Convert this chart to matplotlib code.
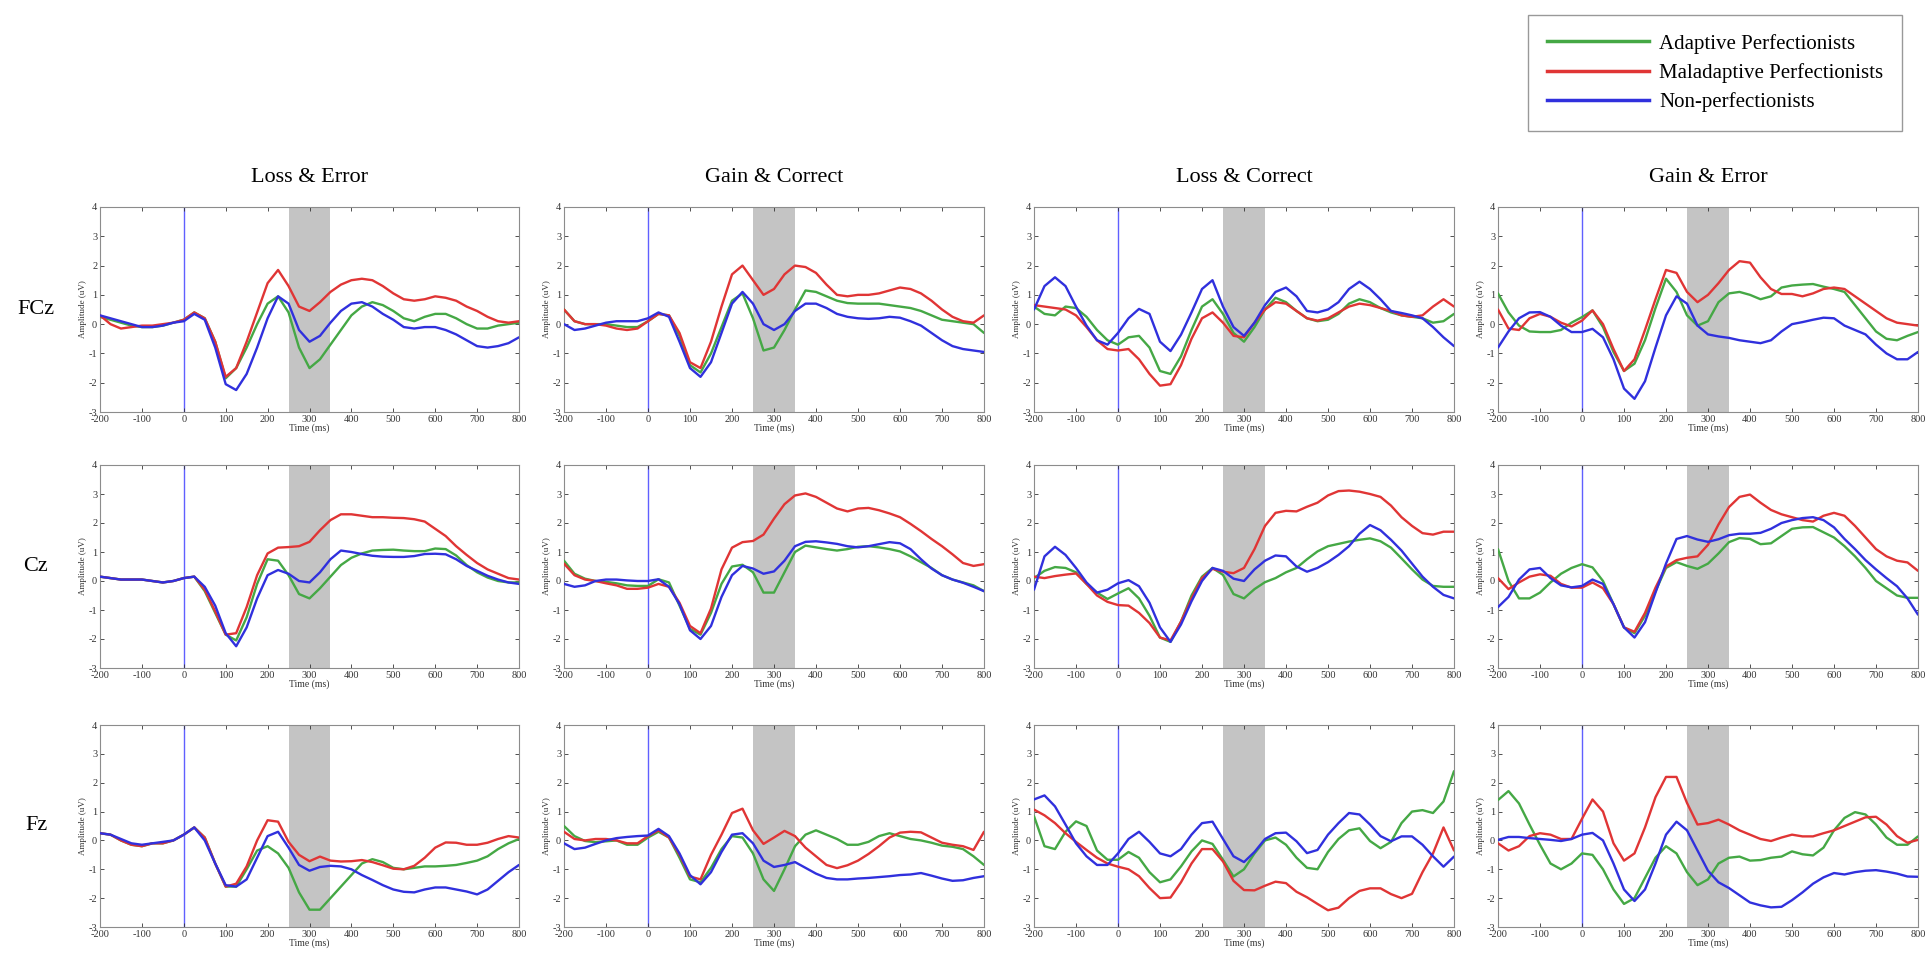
import matplotlib
matplotlib.use("Agg")
import matplotlib.pyplot as plt
from matplotlib.lines import Line2D

plt.rcParams['font.family'] = ['Liberation Serif', 'DejaVu Serif']
plt.rcParams['axes.unicode_minus'] = False

# ---------------- data ----------------
time_ms = list(range(-200, 801, 25))
x_ticks = [-200, -100, 0, 100, 200, 300, 400, 500, 600, 700, 800]
y_ticks = [-3, -2, -1, 0, 1, 2, 3, 4]
conditions = ["Loss & Error", "Gain & Correct", "Loss & Correct", "Gain & Error"]
electrodes = ["FCz", "Cz", "Fz"]
groups = ["Adaptive Perfectionists", "Maladaptive Perfectionists", "Non-perfectionists"]

# FCz
fcz_loss_error_adaptive = [0.25,0.15,0.05,-0.05,-0.1,-0.1,-0.05,0.05,0.15,0.4,0.2,-0.6,-1.85,-1.5,-0.8,0.0,0.7,0.95,0.4,-0.8,-1.5,-1.2,-0.7,-0.2,0.3,0.6,0.75,0.65,0.45,0.2,0.1,0.25,0.35,0.35,0.2,0.0,-0.15,-0.15,-0.05,0.0,0.05]
fcz_loss_error_maladaptive = [0.3,0.0,-0.15,-0.1,-0.05,-0.05,0.0,0.05,0.15,0.4,0.2,-0.6,-1.8,-1.5,-0.6,0.4,1.4,1.85,1.3,0.6,0.45,0.75,1.1,1.35,1.5,1.55,1.5,1.3,1.05,0.85,0.8,0.85,0.95,0.9,0.8,0.6,0.45,0.25,0.1,0.05,0.1]
fcz_loss_error_non = [0.3,0.2,0.1,0.0,-0.1,-0.1,-0.05,0.05,0.1,0.35,0.15,-0.8,-2.05,-2.25,-1.7,-0.8,0.2,0.95,0.7,-0.2,-0.6,-0.4,0.05,0.45,0.7,0.75,0.6,0.35,0.15,-0.1,-0.15,-0.1,-0.1,-0.2,-0.35,-0.55,-0.75,-0.8,-0.75,-0.65,-0.45]

fcz_gain_correct_adaptive = [0.5,0.1,0.0,0.0,0.0,-0.05,-0.1,-0.1,0.1,0.35,0.3,-0.4,-1.4,-1.65,-1.0,-0.1,0.8,1.05,0.2,-0.9,-0.8,-0.2,0.5,1.15,1.1,0.95,0.8,0.72,0.7,0.7,0.7,0.65,0.6,0.55,0.45,0.3,0.15,0.1,0.05,0.0,-0.3]
fcz_gain_correct_maladaptive = [0.5,0.1,0.0,0.0,-0.05,-0.15,-0.2,-0.15,0.1,0.35,0.3,-0.3,-1.3,-1.5,-0.6,0.6,1.7,2.0,1.5,1.0,1.2,1.7,2.0,1.95,1.75,1.35,1.0,0.95,1.0,1.0,1.05,1.15,1.25,1.2,1.05,0.8,0.5,0.25,0.1,0.05,0.3]
fcz_gain_correct_non = [0.0,-0.2,-0.15,-0.05,0.05,0.1,0.1,0.1,0.2,0.4,0.25,-0.6,-1.5,-1.8,-1.3,-0.3,0.7,1.1,0.7,0.0,-0.2,0.0,0.45,0.7,0.7,0.55,0.35,0.25,0.2,0.18,0.2,0.25,0.22,0.1,-0.05,-0.3,-0.55,-0.75,-0.85,-0.9,-0.95]

fcz_loss_correct_adaptive = [0.6,0.35,0.3,0.6,0.55,0.25,-0.2,-0.55,-0.7,-0.45,-0.4,-0.8,-1.6,-1.7,-1.1,-0.2,0.6,0.85,0.35,-0.3,-0.6,-0.1,0.5,0.9,0.75,0.45,0.2,0.1,0.15,0.35,0.7,0.85,0.75,0.55,0.4,0.3,0.25,0.2,0.05,0.1,0.35]
fcz_loss_correct_maladaptive = [0.65,0.6,0.55,0.5,0.3,-0.1,-0.55,-0.85,-0.9,-0.85,-1.2,-1.7,-2.1,-2.05,-1.4,-0.5,0.2,0.4,0.05,-0.4,-0.45,0.05,0.5,0.75,0.7,0.45,0.2,0.12,0.2,0.4,0.6,0.7,0.65,0.55,0.45,0.3,0.25,0.3,0.6,0.85,0.6]
fcz_loss_correct_non = [0.5,1.3,1.6,1.3,0.6,-0.05,-0.55,-0.7,-0.3,0.2,0.52,0.35,-0.6,-0.92,-0.36,0.4,1.2,1.5,0.6,-0.1,-0.4,0.05,0.65,1.1,1.25,0.95,0.45,0.4,0.5,0.75,1.2,1.45,1.2,0.85,0.45,0.38,0.3,0.2,-0.1,-0.45,-0.75]

fcz_gain_error_adaptive = [1.05,0.4,-0.05,-0.25,-0.27,-0.27,-0.2,0.05,0.24,0.47,-0.1,-0.95,-1.6,-1.35,-0.55,0.55,1.55,1.1,0.3,-0.05,0.1,0.75,1.05,1.1,1.0,0.85,0.95,1.25,1.32,1.35,1.37,1.28,1.2,1.1,0.65,0.2,-0.25,-0.5,-0.55,-0.4,-0.27]
fcz_gain_error_maladaptive = [0.5,-0.15,-0.2,0.2,0.35,0.25,0.05,-0.08,0.12,0.47,0.0,-0.85,-1.6,-1.2,-0.2,0.85,1.85,1.75,1.1,0.75,1.0,1.4,1.85,2.15,2.1,1.6,1.2,1.03,1.03,0.95,1.05,1.2,1.25,1.2,0.95,0.7,0.45,0.2,0.05,0.0,-0.05]
fcz_gain_error_non = [-0.8,-0.25,0.2,0.4,0.41,0.25,-0.05,-0.27,-0.27,-0.16,-0.45,-1.2,-2.2,-2.55,-1.95,-0.8,0.3,0.95,0.7,-0.05,-0.35,-0.42,-0.47,-0.55,-0.6,-0.65,-0.55,-0.25,0.0,0.07,0.15,0.22,0.2,-0.05,-0.2,-0.35,-0.7,-1.0,-1.2,-1.2,-0.95]

# Cz
cz_loss_error_adaptive = [0.15,0.1,0.05,0.05,0.05,0.0,-0.05,0.0,0.1,0.15,-0.35,-1.1,-1.85,-2.05,-1.25,-0.1,0.75,0.7,0.2,-0.45,-0.6,-0.25,0.15,0.55,0.8,0.95,1.05,1.07,1.08,1.05,1.03,1.03,1.12,1.1,0.88,0.55,0.3,0.12,0.0,-0.05,-0.05]
cz_loss_error_maladaptive = [0.15,0.1,0.05,0.05,0.05,0.0,-0.05,0.0,0.1,0.15,-0.3,-1.05,-1.85,-1.8,-0.9,0.2,0.95,1.15,1.17,1.2,1.35,1.75,2.1,2.3,2.3,2.25,2.2,2.2,2.18,2.17,2.13,2.05,1.8,1.55,1.2,0.9,0.62,0.4,0.25,0.1,0.05]
cz_loss_error_non = [0.15,0.1,0.05,0.05,0.05,0.0,-0.05,0.0,0.1,0.15,-0.2,-0.85,-1.8,-2.25,-1.6,-0.6,0.2,0.38,0.25,0.0,-0.05,0.3,0.75,1.05,1.0,0.93,0.87,0.84,0.83,0.83,0.86,0.93,0.94,0.92,0.75,0.52,0.35,0.18,0.05,-0.05,-0.1]

cz_gain_correct_adaptive = [0.7,0.25,0.08,0.0,-0.03,-0.08,-0.15,-0.17,-0.17,0.06,-0.05,-0.85,-1.65,-1.85,-1.1,-0.1,0.5,0.56,0.3,-0.4,-0.4,0.3,1.0,1.22,1.16,1.1,1.05,1.1,1.18,1.2,1.16,1.1,1.02,0.85,0.65,0.45,0.2,0.05,-0.05,-0.15,-0.35]
cz_gain_correct_maladaptive = [0.6,0.2,0.05,0.0,-0.08,-0.15,-0.27,-0.27,-0.23,-0.1,-0.2,-0.75,-1.55,-1.8,-0.95,0.4,1.15,1.34,1.38,1.6,2.15,2.65,2.95,3.02,2.9,2.7,2.5,2.4,2.5,2.52,2.44,2.33,2.2,1.97,1.72,1.45,1.2,0.92,0.62,0.52,0.58]
cz_gain_correct_non = [-0.1,-0.2,-0.15,0.0,0.05,0.05,0.02,0.0,0.0,0.06,-0.2,-0.8,-1.7,-2.0,-1.55,-0.55,0.2,0.52,0.43,0.25,0.33,0.7,1.2,1.35,1.37,1.33,1.28,1.2,1.16,1.2,1.27,1.34,1.3,1.1,0.75,0.43,0.2,0.05,-0.06,-0.2,-0.35]

cz_loss_correct_adaptive = [0.1,0.35,0.48,0.45,0.3,-0.1,-0.4,-0.62,-0.43,-0.25,-0.6,-1.2,-1.95,-2.1,-1.4,-0.5,0.15,0.45,0.21,-0.45,-0.6,-0.28,-0.04,0.1,0.3,0.45,0.75,1.02,1.2,1.28,1.36,1.42,1.47,1.37,1.15,0.78,0.4,0.05,-0.17,-0.2,-0.2]
cz_loss_correct_maladaptive = [0.15,0.1,0.17,0.22,0.26,-0.1,-0.5,-0.72,-0.83,-0.85,-1.1,-1.45,-1.95,-2.05,-1.4,-0.6,0.1,0.42,0.32,0.27,0.45,1.1,1.9,2.35,2.42,2.4,2.56,2.7,2.95,3.1,3.12,3.08,3.0,2.9,2.6,2.2,1.9,1.65,1.6,1.7,1.7]
cz_loss_correct_non = [-0.3,0.85,1.18,0.9,0.45,-0.05,-0.4,-0.3,-0.08,0.03,-0.18,-0.75,-1.6,-2.1,-1.5,-0.7,0.0,0.45,0.35,0.08,0.0,0.4,0.7,0.88,0.85,0.5,0.32,0.45,0.65,0.9,1.2,1.63,1.93,1.75,1.42,1.05,0.6,0.15,-0.2,-0.48,-0.6]

cz_gain_error_adaptive = [1.1,0.0,-0.6,-0.6,-0.4,-0.05,0.25,0.45,0.58,0.47,0.0,-0.8,-1.6,-1.8,-1.2,-0.35,0.45,0.65,0.52,0.42,0.6,0.95,1.34,1.48,1.45,1.27,1.3,1.55,1.8,1.85,1.86,1.68,1.5,1.2,0.85,0.45,0.0,-0.25,-0.5,-0.58,-0.58]
cz_gain_error_maladaptive = [0.1,-0.28,-0.05,0.15,0.23,0.18,-0.1,-0.23,-0.23,-0.05,-0.25,-0.8,-1.6,-1.75,-1.1,-0.23,0.5,0.72,0.8,0.85,1.25,1.95,2.55,2.9,2.98,2.7,2.45,2.3,2.2,2.1,2.05,2.25,2.35,2.25,1.9,1.5,1.1,0.85,0.7,0.64,0.35]
cz_gain_error_non = [-0.9,-0.55,0.05,0.4,0.45,0.1,-0.15,-0.22,-0.17,0.05,-0.1,-0.8,-1.6,-1.95,-1.42,-0.4,0.6,1.45,1.55,1.43,1.35,1.44,1.58,1.63,1.63,1.66,1.8,2.0,2.1,2.17,2.2,2.1,1.85,1.45,1.1,0.72,0.4,0.1,-0.18,-0.6,-1.16]

# Fz
fz_loss_error_adaptive = [0.25,0.2,0.0,-0.15,-0.2,-0.1,-0.1,0.0,0.2,0.45,0.1,-0.8,-1.6,-1.6,-1.0,-0.35,-0.2,-0.45,-0.95,-1.8,-2.4,-2.4,-2.0,-1.6,-1.2,-0.8,-0.65,-0.75,-0.95,-1.0,-0.95,-0.9,-0.9,-0.88,-0.85,-0.78,-0.7,-0.55,-0.3,-0.1,0.05]
fz_loss_error_maladaptive = [0.25,0.2,0.0,-0.15,-0.2,-0.1,-0.1,0.0,0.2,0.45,0.1,-0.8,-1.6,-1.5,-0.9,0.0,0.7,0.65,-0.05,-0.5,-0.72,-0.56,-0.7,-0.73,-0.72,-0.68,-0.75,-0.86,-0.98,-1.0,-0.88,-0.6,-0.25,-0.07,-0.08,-0.15,-0.15,-0.08,0.05,0.15,0.1]
fz_loss_error_non = [0.25,0.2,0.05,-0.1,-0.15,-0.1,-0.05,0.0,0.2,0.45,0.0,-0.8,-1.55,-1.6,-1.35,-0.6,0.15,0.3,-0.25,-0.85,-1.05,-0.92,-0.88,-0.9,-1.0,-1.2,-1.37,-1.55,-1.7,-1.78,-1.8,-1.7,-1.63,-1.63,-1.7,-1.77,-1.87,-1.7,-1.4,-1.1,-0.85]

fz_gain_correct_adaptive = [0.5,0.15,-0.02,-0.06,-0.03,0.0,-0.15,-0.15,0.1,0.3,0.1,-0.6,-1.35,-1.45,-0.95,-0.3,0.15,0.1,-0.45,-1.35,-1.75,-1.0,-0.2,0.2,0.35,0.2,0.05,-0.15,-0.15,-0.05,0.15,0.25,0.15,0.05,0.0,-0.08,-0.18,-0.22,-0.3,-0.55,-0.85]
fz_gain_correct_maladaptive = [0.3,0.05,0.0,0.05,0.05,0.0,-0.1,-0.1,0.15,0.35,0.1,-0.5,-1.25,-1.35,-0.5,0.2,0.95,1.1,0.35,-0.12,0.1,0.33,0.15,-0.25,-0.55,-0.85,-0.96,-0.86,-0.7,-0.47,-0.2,0.1,0.27,0.3,0.28,0.1,-0.08,-0.15,-0.2,-0.33,0.3]
fz_gain_correct_non = [-0.1,-0.3,-0.25,-0.12,0.0,0.08,0.12,0.15,0.17,0.4,0.15,-0.45,-1.2,-1.52,-1.1,-0.4,0.2,0.25,-0.1,-0.7,-0.92,-0.85,-0.75,-0.95,-1.15,-1.3,-1.35,-1.35,-1.32,-1.3,-1.27,-1.24,-1.2,-1.18,-1.13,-1.22,-1.32,-1.4,-1.38,-1.3,-1.24]

fz_loss_correct_adaptive = [0.84,-0.2,-0.3,0.3,0.66,0.5,-0.35,-0.67,-0.67,-0.4,-0.6,-1.1,-1.45,-1.35,-0.9,-0.38,0.0,-0.12,-0.67,-1.25,-1.0,-0.45,0.0,0.1,-0.15,-0.6,-0.95,-1.0,-0.4,0.05,0.35,0.42,-0.02,-0.27,-0.05,0.6,1.0,1.05,0.95,1.35,2.4]
fz_loss_correct_maladaptive = [1.07,0.87,0.6,0.25,-0.05,-0.33,-0.6,-0.8,-0.91,-1.0,-1.24,-1.65,-2.0,-1.98,-1.45,-0.8,-0.3,-0.3,-0.73,-1.4,-1.72,-1.73,-1.57,-1.43,-1.48,-1.78,-1.97,-2.2,-2.42,-2.33,-2.0,-1.75,-1.66,-1.66,-1.86,-2.0,-1.85,-1.1,-0.45,0.45,-0.35]
fz_loss_correct_non = [1.42,1.56,1.18,0.55,-0.1,-0.55,-0.85,-0.85,-0.45,0.05,0.3,-0.05,-0.45,-0.55,-0.3,0.2,0.6,0.65,0.05,-0.55,-0.75,-0.4,0.05,0.25,0.27,-0.03,-0.44,-0.33,0.2,0.6,0.95,0.9,0.55,0.15,-0.03,0.14,0.14,-0.15,-0.55,-0.91,-0.56]

fz_gain_error_adaptive = [1.4,1.71,1.28,0.55,-0.15,-0.8,-1.0,-0.8,-0.45,-0.5,-1.0,-1.7,-2.2,-2.0,-1.3,-0.6,-0.2,-0.45,-1.1,-1.55,-1.35,-0.8,-0.6,-0.56,-0.7,-0.68,-0.6,-0.56,-0.38,-0.48,-0.52,-0.25,0.35,0.78,0.98,0.9,0.55,0.1,-0.15,-0.15,0.14]
fz_gain_error_maladaptive = [-0.1,-0.35,-0.2,0.15,0.25,0.2,0.05,0.05,0.75,1.42,1.0,-0.1,-0.7,-0.45,0.45,1.5,2.2,2.2,1.3,0.55,0.6,0.72,0.55,0.35,0.2,0.05,-0.02,0.1,0.2,0.14,0.14,0.25,0.35,0.5,0.65,0.8,0.82,0.55,0.15,-0.08,0.02]
fz_gain_error_non = [0.02,0.12,0.12,0.08,0.05,0.02,-0.02,0.05,0.2,0.26,0.0,-0.8,-1.7,-2.1,-1.7,-0.8,0.2,0.65,0.35,-0.35,-1.05,-1.45,-1.65,-1.9,-2.15,-2.25,-2.32,-2.3,-2.07,-1.8,-1.5,-1.28,-1.13,-1.18,-1.1,-1.05,-1.03,-1.08,-1.15,-1.25,-1.26]

shade_window = (250, 350)

panels = [
    [(fcz_loss_error_adaptive, fcz_loss_error_maladaptive, fcz_loss_error_non),
     (fcz_gain_correct_adaptive, fcz_gain_correct_maladaptive, fcz_gain_correct_non),
     (fcz_loss_correct_adaptive, fcz_loss_correct_maladaptive, fcz_loss_correct_non),
     (fcz_gain_error_adaptive, fcz_gain_error_maladaptive, fcz_gain_error_non)],
    [(cz_loss_error_adaptive, cz_loss_error_maladaptive, cz_loss_error_non),
     (cz_gain_correct_adaptive, cz_gain_correct_maladaptive, cz_gain_correct_non),
     (cz_loss_correct_adaptive, cz_loss_correct_maladaptive, cz_loss_correct_non),
     (cz_gain_error_adaptive, cz_gain_error_maladaptive, cz_gain_error_non)],
    [(fz_loss_error_adaptive, fz_loss_error_maladaptive, fz_loss_error_non),
     (fz_gain_correct_adaptive, fz_gain_correct_maladaptive, fz_gain_correct_non),
     (fz_loss_correct_adaptive, fz_loss_correct_maladaptive, fz_loss_correct_non),
     (fz_gain_error_adaptive, fz_gain_error_maladaptive, fz_gain_error_non)],
]

colors = ["#45a845", "#e03535", "#3030dd"]

# ---------------- layout ----------------
W, H = 1929, 963
fig = plt.figure(figsize=(W / 100, H / 100), dpi=100)
fig.patch.set_facecolor("white")

col_px = [(100, 519), (564, 984), (1034, 1454), (1498, 1918)]
row_px = [(207, 412), (465, 668), (725, 927)]

def rect(l, r, t, b):
    return [l / W, 1 - b / H, (r - l) / W, (b - t) / H]

spine_col = "#8c8c8c"
for ri, (t, b) in enumerate(row_px):
    for ci, (l, r) in enumerate(col_px):
        ax = fig.add_axes(rect(l, r, t, b))
        ax.axvspan(shade_window[0], shade_window[1], color="#c4c4c4", lw=0, zorder=0)
        ax.axvline(0, color="#6060ff", lw=1.0, zorder=1)
        for series, c in zip(panels[ri][ci], colors):
            ax.plot(time_ms, series, color=c, lw=1.7, zorder=3,
                    solid_joinstyle="round", solid_capstyle="round")
        ax.set_xlim(-200, 800)
        ax.set_ylim(-3, 4)
        ax.set_xticks(x_ticks)
        ax.set_yticks(y_ticks)
        ax.tick_params(direction="in", length=3, width=0.6, labelsize=7.5,
                       top=True, right=True, colors="#333333", pad=2)
        for s in ax.spines.values():
            s.set_color(spine_col)
            s.set_linewidth(0.8)
        ax.set_xlabel("Time (ms)", fontsize=7, labelpad=0, color="#333333")
        ax.set_ylabel("Amplitude (uV)", fontsize=6.5, labelpad=1, color="#333333")
        if ri == 0:
            fig.text(((l + r) / 2) / W, 1 - 177 / H, conditions[ci],
                     ha="center", va="center", fontsize=16)
    fig.text(36 / W, 1 - ((t + b) / 2) / H, electrodes[ri],
             ha="center", va="center", fontsize=16)

handles = [Line2D([], [], color=c, lw=2.5) for c in colors]
leg = fig.legend(handles, groups, loc="upper right",
                 bbox_to_anchor=(1902 / W, 1 - 15 / H),
                 fontsize=15, frameon=True, fancybox=False,
                 handlelength=4.9, handletextpad=0.5, labelspacing=0.45,
                 borderpad=0.9, borderaxespad=0)
leg.get_frame().set_edgecolor("#808080")
leg.get_frame().set_linewidth(1.0)

fig.savefig("out.png", dpi=100, facecolor="white")
